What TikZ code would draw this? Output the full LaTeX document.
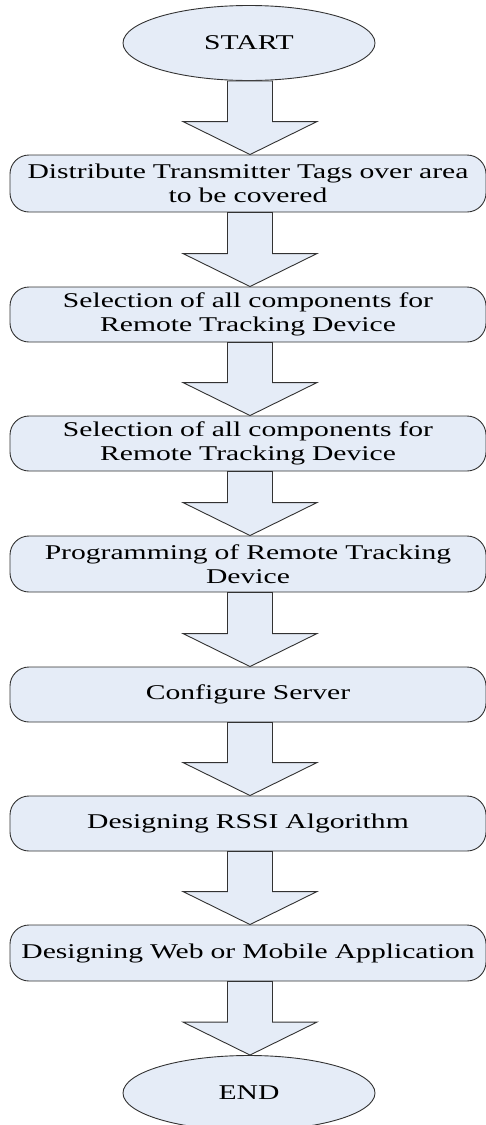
\documentclass[tikz,border=0pt]{standalone}
\usepackage{fontspec}
\setmainfont{Liberation Serif}[FakeStretch=1.41]
\usetikzlibrary{shapes.geometric,calc}
\definecolor{boxfill}{RGB}{229,236,247}
\definecolor{boxline}{RGB}{50,50,50}
\tikzset{
  every node/.style={font=\fontsize{21}{24}\selectfont},
  stepbox/.style={draw=boxline, fill=boxfill, line width=0.9pt, rounded corners=19pt,
    minimum width=476pt, inner sep=0pt, align=center, text width=474pt},
  termnode/.style={draw=boxline, fill=boxfill, line width=0.9pt, ellipse,
    minimum width=252pt, minimum height=75pt, inner sep=0pt},
  blockarrow/.style={draw=boxline, fill=boxfill, line width=0.9pt, line join=miter}
}
\newcommand{\blockarr}[2]{%
  \path[blockarrow] let \p1=(#1.south), \p2=(#2.north) in
    (250pt,\y1) -- (272.5pt,\y1) -- (272.5pt,\y2+33pt) -- (317pt,\y2+33pt) --
    (250pt,\y2) -- (183pt,\y2+33pt) -- (227.5pt,\y2+33pt) -- (227.5pt,\y1) -- cycle;}
\begin{document}
\begin{tikzpicture}[x=1pt,y=-1pt]
\useasboundingbox (0,0) rectangle (486,1125);
\node[termnode] (start) at (249,43) {START};
\node[stepbox, minimum height=57pt] (b1) at (248,183.5) {Distribute Transmitter Tags over area\\to be covered};
\node[stepbox, minimum height=55pt] (b2) at (248,314.5) {Selection of all components for\\Remote Tracking Device};
\node[stepbox, minimum height=55pt] (b3) at (248,443.5) {Selection of all components for\\Remote Tracking Device};
\node[stepbox, minimum height=56pt] (b4) at (248,564) {Programming of Remote Tracking\\Device};
\node[stepbox, minimum height=55pt] (b5) at (248,694.5) {Configure Server};
\node[stepbox, minimum height=55pt] (b6) at (248,823.5) {Designing RSSI Algorithm};
\node[stepbox, minimum height=56pt] (b7) at (248,953) {Designing Web or Mobile Application};
\node[termnode] (end) at (249,1093) {END};
\blockarr{start}{b1}
\blockarr{b1}{b2}
\blockarr{b2}{b3}
\blockarr{b3}{b4}
\blockarr{b4}{b5}
\blockarr{b5}{b6}
\blockarr{b6}{b7}
\blockarr{b7}{end}
\end{tikzpicture}
\end{document}
